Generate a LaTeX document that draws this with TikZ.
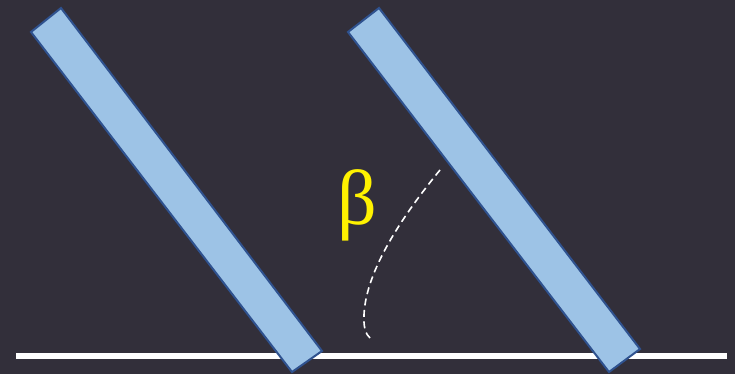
\documentclass[tikz,border=0pt]{standalone}
\usepackage{fontspec}
\newfontfamily\grk{Liberation Serif}
\definecolor{bg}{RGB}{50,47,58}
\definecolor{barfill}{RGB}{157,195,230}
\definecolor{barline}{RGB}{47,82,143}
\begin{document}
\begin{tikzpicture}[x=1pt,y=-1pt,
  bar/.style={fill=barfill,draw=barline,line width=2pt,line join=miter},
  ground/.style={draw=white,line width=6pt},
  arcline/.style={draw=white,line width=1.6pt,dash pattern=on 7pt off 4.5pt}]
\fill[bg] (0,0) rectangle (735,374);
\useasboundingbox (0,0) rectangle (735,374);
\coordinate (gl) at (16,356);
\coordinate (gr) at (727,356);
\draw[ground] (gl) -- (gr);
\draw[bar] (31,32) -- (61,8) -- (322,351) -- (292,372) -- cycle;
\draw[bar] (348,32) -- (379,8) -- (640,349) -- (609,372) -- cycle;
\coordinate (a1) at (440,170);
\coordinate (a2) at (370,338);
\draw[arcline] (a1) .. controls (395,225) and (362,280) .. (364,322) .. controls (364.5,330) and (366,334) .. (a2);
\node[text=yellow,font=\grk\fontsize{78}{78}\selectfont,inner sep=0pt] (beta) at (357,205) {β};
\end{tikzpicture}
\end{document}
